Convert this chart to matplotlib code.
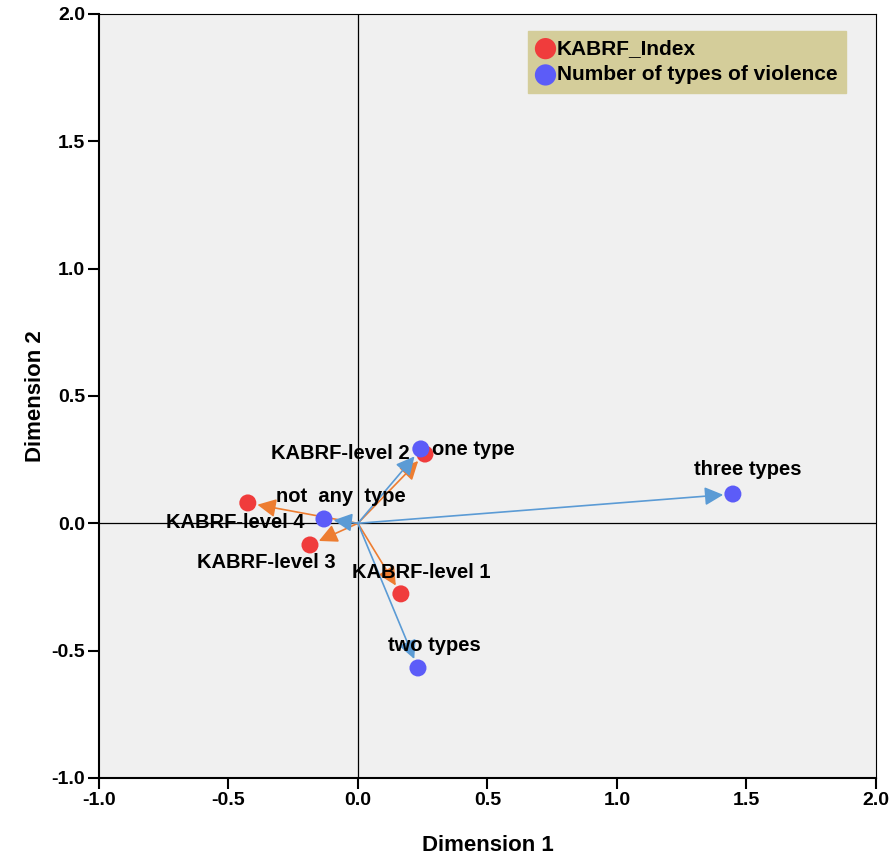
import numpy as np
import matplotlib
matplotlib.use("Agg")
import matplotlib.pyplot as plt

plt.rcParams['font.family'] = ['Liberation Sans', 'DejaVu Sans']
plt.rcParams['font.weight'] = 'bold'
plt.rcParams['axes.unicode_minus'] = False

# category points (dimension 1, dimension 2)
kabrf_labels = ["KABRF-level 1", "KABRF-level 2", "KABRF-level 3", "KABRF-level 4"]
kabrf_x = [0.166, 0.259, -0.185, -0.425]
kabrf_y = [-0.277, 0.272, -0.085, 0.080]

viol_labels = ["not  any  type", "one type", "two types", "three types"]
viol_x = [-0.131, 0.243, 0.232, 1.448]
viol_y = [0.017, 0.292, -0.568, 0.115]

# label anchors (data coords) and alignment
kabrf_text = [(-0.023, -0.195, 'left'), (0.201, 0.276, 'right'),
              (-0.622, -0.155, 'left'), (-0.741, 0.002, 'left')]
viol_text = [(-0.317, 0.104, 'left'), (0.286, 0.288, 'left'),
             (0.116, -0.481, 'left'), (1.297, 0.210, 'left')]

red = '#f03c3c'
blue = '#5c5cf8'
orange = '#ed7d31'
lblue = '#5b9bd5'

fig = plt.figure(figsize=(8.91, 8.57), dpi=100)
ax = fig.add_axes([0.111, 0.0922, 0.872, 0.8915])
ax.set_facecolor('#f0f0f0')
ax.set_xlim(-1.0, 2.0)
ax.set_ylim(-1.0, 2.0)

ax.axhline(0, color='black', lw=0.9, zorder=1)
ax.axvline(0, color='black', lw=0.9, zorder=1)

for x, y in zip(kabrf_x, kabrf_y):
    ax.annotate('', xy=(x, y), xytext=(0, 0),
                arrowprops=dict(arrowstyle='-|>', color=orange, lw=1.2,
                                shrinkA=0, shrinkB=7, mutation_scale=28), zorder=2)
for x, y in zip(viol_x, viol_y):
    ax.annotate('', xy=(x, y), xytext=(0, 0),
                arrowprops=dict(arrowstyle='-|>', color=lblue, lw=1.2,
                                shrinkA=0, shrinkB=7, mutation_scale=28), zorder=2)

ax.scatter(kabrf_x, kabrf_y, s=150, color=red, zorder=3, label='KABRF_Index', edgecolors='none')
ax.scatter(viol_x, viol_y, s=150, color=blue, zorder=3, label='Number of types of violence', edgecolors='none')

for lab, (tx, ty, ha) in zip(kabrf_labels, kabrf_text):
    ax.text(tx, ty, lab, ha=ha, va='center', fontsize=14.5, fontweight='bold', zorder=4)
for lab, (tx, ty, ha) in zip(viol_labels, viol_text):
    ax.text(tx, ty, lab, ha=ha, va='center', fontsize=14.5, fontweight='bold', zorder=4)

leg = ax.legend(loc='upper left', bbox_to_anchor=(0.552, 0.978), borderaxespad=0,
                frameon=True, fancybox=False, facecolor='#d4cd9a', edgecolor='#d4cd9a',
                framealpha=1, handletextpad=0.1, handlelength=0.9, labelspacing=0.35,
                borderpad=0.4, markerscale=1.25, prop={'weight': 'bold', 'size': 15})

ticks = [-1.0, -0.5, 0.0, 0.5, 1.0, 1.5, 2.0]
ax.set_xticks(ticks)
ax.set_yticks(ticks)
ax.set_xticklabels([f"{t:.1f}" for t in ticks])
ax.set_yticklabels([f"{t:.1f}" for t in ticks])
ax.tick_params(direction='out', length=8, width=1.5, labelsize=14, pad=2)
for lbl in ax.get_xticklabels() + ax.get_yticklabels():
    lbl.set_fontweight('bold')

for side in ['left', 'bottom']:
    ax.spines[side].set_linewidth(1.5)
for side in ['top', 'right']:
    ax.spines[side].set_linewidth(0.8)

ax.set_xlabel('Dimension 1', fontsize=16, fontweight='bold', labelpad=19)
ax.set_ylabel('Dimension 2', fontsize=16, fontweight='bold', labelpad=4)

fig.savefig('out.png', dpi=100)
